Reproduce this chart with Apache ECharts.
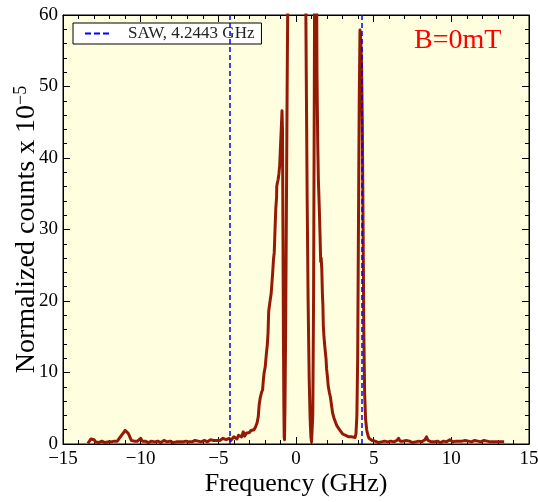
<!DOCTYPE html>
<html>
<head>
<meta charset="utf-8">
<script src="https://cdn.jsdelivr.net/npm/echarts@6/dist/echarts.min.js"></script>
<style>html,body{margin:0;padding:0;background:#fff}#chart{width:538px;height:502px}</style>
</head>
<body>
<div id="chart"></div>
<script>
// Frequency (GHz)
const freq = [
 -13.4,-13.3,-13.2,-13.1,-13.0,-12.9,-12.8,-12.7,-12.6,-12.5,-12.4,-12.3,-12.2,-12.1,-12.0,-11.9,-11.8,-11.7,-11.6,-11.5,
 -11.4,-11.3,-11.2,-11.1,-11.0,-10.9,-10.8,-10.7,-10.6,-10.5,-10.4,-10.3,-10.2,-10.1,-10.0,-9.9,-9.8,-9.7,-9.6,-9.5,
 -9.4,-9.3,-9.2,-9.1,-9.0,-8.9,-8.8,-8.7,-8.6,-8.5,-8.4,-8.3,-8.2,-8.1,-8.0,-7.9,-7.8,-7.7,-7.6,-7.5,
 -7.4,-7.3,-7.2,-7.1,-7.0,-6.9,-6.8,-6.7,-6.6,-6.5,-6.4,-6.3,-6.2,-6.1,-6.0,-5.9,-5.8,-5.7,-5.6,-5.5,
 -5.4,-5.3,-5.2,-5.1,-5.0,-4.9,-4.8,-4.7,-4.6,
 -4.5,-4.4,-4.3,-4.2,-4.1,-4.0,-3.9,-3.8,-3.7,-3.6,-3.5,-3.4,-3.3,-3.2,-3.1,-3.0,-2.9,-2.8,-2.7,-2.6,-2.5,
 -2.43,-2.37,-2.3,-2.22,-2.15,-2.1,-2.05,-1.98,-1.9,-1.85,-1.8,-1.76,-1.72,-1.65,-1.6,-1.55,-1.5,-1.45,-1.4,
 -1.35,-1.3,-1.25,-1.24,-1.2,-1.15,-1.1,-1.05,-1.0,-0.95,-0.9,-0.87,-0.84,-0.81,-0.78,-0.76,-0.74,-0.71,
 -0.67,-0.62,-0.57,-0.53,-0.45,-0.3,0,0.3,0.5,0.62,0.66,0.72,0.78,0.85,0.91,0.96,1.0,1.04,1.08,1.13,1.18,
 1.22,1.27,1.31,1.35,1.4,1.44,1.5,1.55,1.59,1.62,1.66,1.7,1.73,1.76,1.8,1.86,1.93,1.97,2.02,2.08,2.15,2.22,
 2.3,2.36,2.45,2.55,2.62,2.7,2.8,2.9,3.0,3.1,3.2,3.3,3.4,3.5,3.6,3.7,3.8,3.86,3.92,3.97,4.02,4.07,4.12,4.17,
 4.22,4.27,4.32,4.37,4.42,4.48,4.55,4.62,4.7,4.8,
 4.9,5.0,5.1,5.2,5.3,5.4,5.5,5.6,5.7,5.8,5.9,6.0,6.1,6.2,6.3,6.4,6.5,6.6,6.7,6.8,6.9,7.0,7.1,7.2,7.3,7.4,
 7.5,7.6,7.7,7.8,7.9,8.0,8.1,8.2,8.3,8.4,8.5,8.6,8.7,8.8,8.9,9.0,9.1,9.2,9.3,9.4,9.5,9.6,9.7,9.8,9.9,
 10.0,10.1,10.2,10.3,10.4,10.5,10.6,10.7,10.8,10.9,11.0,11.1,11.2,11.3,11.4,11.5,11.6,11.7,11.8,11.9,
 12.0,12.1,12.2,12.3,12.4,12.5,12.6,12.7,12.8,12.9,13.0,13.1,13.2,13.3,13.4
];
// Normalized counts x 10^-5
const counts = [
 0.1,0.4,0.7,0.9,0.6,0.3,0.4,0.2,0.3,0.4,0.3,0.2,0.4,0.3,0.5,0.3,0.2,0.4,0.5,0.4,
 0.7,0.9,1.3,1.6,1.9,2.0,1.5,1.0,0.5,0.3,0.4,0.3,0.4,0.6,0.8,0.4,0.3,0.4,0.3,0.2,
 0.3,0.4,0.5,0.3,0.3,0.4,0.3,0.2,0.3,0.5,0.4,0.3,0.3,0.4,0.3,0.2,0.4,0.3,0.5,0.3,
 0.4,0.3,0.3,0.4,0.5,0.3,0.4,0.3,0.4,0.5,0.3,0.4,0.5,0.3,0.4,0.5,0.4,0.3,0.5,0.6,
 0.4,0.5,0.6,0.5,0.7,0.5,0.6,0.8,0.6,
 0.6,0.5,0.8,0.5,0.6,1.0,0.8,0.7,1.2,1.4,1.0,1.7,1.1,1.5,1.3,1.6,1.9,1.7,2.0,2.4,3.0,
 3.8,5.5,6.5,7.2,7.6,9.0,10.0,10.8,12.8,13.8,15.5,18.5,19.2,20.3,21.0,22.5,24.0,25.8,26.8,
 30.0,33.0,34.5,36.0,36.5,37.0,37.8,39.0,41.5,44.0,46.6,44.0,30.0,15.0,5.0,1.0,0.6,5.0,
 15.0,32.0,50.0,62,120,250,400,250,120,65,52,34,20,9,3.5,1.0,0.3,0.5,4,20,50,
 80,100,75,52,42,37,33,29,25.5,26,24.5,21,19.5,16.5,15,13.5,12.0,10.5,9.5,8.0,7.2,6.5,
 5.2,4.3,3.6,3.0,2.6,2.4,2.0,1.8,1.4,1.5,1.2,1.3,1.0,1.2,1.0,1.1,0.9,1.4,4.0,12,30,48,57.9,56.5,
 53,45,30,15,7,3.5,2.0,1.3,0.8,0.6,
 0.5,0.3,0.4,0.3,0.2,0.4,0.3,0.3,0.4,0.5,0.3,0.3,0.4,0.3,0.3,0.4,0.5,0.8,0.4,0.3,0.4,0.3,0.5,0.3,0.4,0.3,
 0.2,0.4,0.3,0.3,0.4,0.3,0.3,0.4,0.6,1.0,0.5,0.3,0.3,0.4,0.3,0.3,0.4,0.3,0.2,0.3,0.4,0.3,0.3,0.4,0.6,
 0.4,0.3,0.3,0.4,0.3,0.4,0.5,0.4,0.3,0.5,0.3,0.4,0.5,0.3,0.4,0.5,0.3,0.4,0.5,0.3,
 0.4,0.5,0.3,0.4,0.5,0.3,0.4,0.3,0.5,0.3,0.4,0.3,0.4,0.3,0.3
];
const sawFreq = 4.2443;
const sawLabel = 'SAW, 4.2443 GHz';
const fieldLabel = 'B=0mT';
const xTicks = [-15, -10, -5, 0, 5, 10, 15];
const yTicks = [0, 10, 20, 30, 40, 50, 60];

const FONT = 'Liberation Serif';
const fmt = v => (v < 0 ? '\u2212' + Math.abs(v) : String(v));

const chart = echarts.init(document.getElementById('chart'));
const spectrum = freq.map((f, i) => [f, counts[i]]);

const axisCommon = {
  axisLine: { show: true, onZero: false, lineStyle: { color: '#000', width: 1 } },
  axisTick: { show: true, inside: true, length: 7, lineStyle: { color: '#000', width: 1 } },
  minorTick: { show: true, splitNumber: 5, length: 4, lineStyle: { color: '#000', width: 1 } },
  splitLine: { show: false }
};

chart.setOption({
  animation: false,
  backgroundColor: '#fff',
  grid: {
    left: 63, right: 9, top: 15, bottom: 58, containLabel: false, outerBoundsMode: 'none',
    show: true, backgroundColor: '#FFFFE0', borderColor: '#000', borderWidth: 1
  },
  legend: {
    data: [{ name: sawLabel, icon: 'path://M0,0H6V2H0Z M9,0H15V2H9Z M18,0H24V2H18Z' }],
    left: 73, top: 23,
    backgroundColor: '#fff', borderColor: '#000', borderWidth: 1, borderRadius: 0,
    padding: [2, 7, 2, 12],
    itemWidth: 24, itemHeight: 2,
    itemStyle: { color: '#0000ff' },
    textStyle: { fontFamily: FONT, fontSize: 17, color: '#222', padding: [0, 0, 0, 14] }
  },
  xAxis: [
    Object.assign({}, axisCommon, {
      type: 'value', min: xTicks[0], max: xTicks[xTicks.length - 1], interval: 5, position: 'bottom',
      name: 'Frequency (GHz)', nameLocation: 'middle', nameGap: 27, nameMoveOverlap: false,
      nameTextStyle: { fontFamily: FONT, fontSize: 26, color: '#000' },
      axisLabel: { show: true, margin: 6, fontFamily: FONT, fontSize: 19, color: '#000', formatter: fmt }
    }),
    Object.assign({}, axisCommon, {
      type: 'value', min: xTicks[0], max: xTicks[xTicks.length - 1], interval: 5, position: 'top',
      axisLabel: { show: false }
    })
  ],
  yAxis: [
    Object.assign({}, axisCommon, {
      type: 'value', min: yTicks[0], max: yTicks[yTicks.length - 1], interval: 10, position: 'left',
      name: 'Normalized counts x 10{sup|\u22125}', nameLocation: 'middle', nameGap: 21, nameMoveOverlap: false,
      nameTextStyle: {
        fontFamily: FONT, fontSize: 28, color: '#000',
        rich: { sup: { fontFamily: FONT, fontSize: 18, color: '#000', verticalAlign: 'top', padding: [0, 0, 12, 0] } }
      },
      axisLabel: { show: true, margin: 5, fontFamily: FONT, fontSize: 19, color: '#000', formatter: fmt }
    }),
    Object.assign({}, axisCommon, {
      type: 'value', min: yTicks[0], max: yTicks[yTicks.length - 1], interval: 10, position: 'right',
      axisLabel: { show: false }
    })
  ],
  graphic: [{
    type: 'text', left: 414, top: 27, z: 100,
    style: { text: fieldLabel, fill: '#ff0000', font: '28px "Liberation Serif"' }
  }],
  series: [
    {
      name: 'spectrum', type: 'line', data: spectrum, symbol: 'none', clip: true, z: 2,
      xAxisIndex: 0, yAxisIndex: 0,
      lineStyle: { color: '#951a06', width: 3, join: 'round' }, itemStyle: { color: '#951a06' }
    },
    {
      name: sawLabel, type: 'line', data: [], symbol: 'none', z: 3,
      xAxisIndex: 0, yAxisIndex: 0,
      lineStyle: { color: '#0000ff', width: 1.5, type: [5, 3] }, itemStyle: { color: '#0000ff' },
      markLine: {
        silent: true, symbol: 'none', label: { show: false }, animation: false,
        lineStyle: { color: '#0000ff', width: 1.5, type: [5, 3] },
        data: [{ xAxis: -sawFreq }, { xAxis: sawFreq }]
      }
    }
  ]
});
</script>
</body>
</html>
